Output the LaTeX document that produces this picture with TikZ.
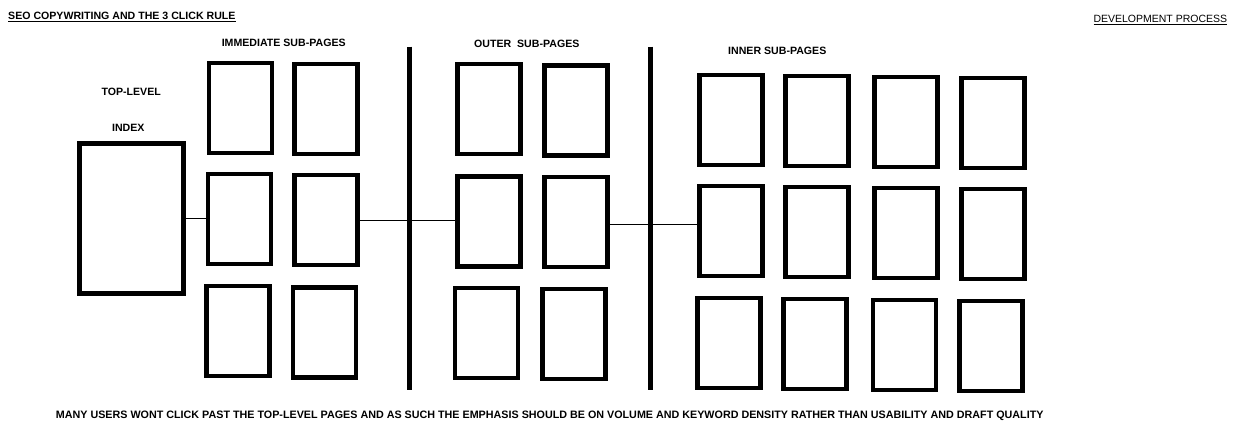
\documentclass[tikz,border=0pt]{standalone}
\usepackage{fontspec}
\setmainfont{Liberation Sans}

\begin{document}
\begin{tikzpicture}[x=1pt,y=-1pt]
%styles : pages, barres et titres
\tikzset{page/.style={draw,line width=4.2pt,minimum width=63pt,minimum height=90pt,inner sep=0pt}}
\tikzset{titre/.style={font=\bfseries\fontsize{10.6}{12}\selectfont,inner sep=0pt}}
\tikzset{lien/.style={line width=1.2pt}}
\useasboundingbox (0,0) rectangle (1234,434);
\node[titre,anchor=west] (seo) at (8,17.3) {\underline{SEO COPYWRITING AND THE 3 CLICK RULE}};
\node[titre,font=\fontsize{10.5}{12}\selectfont,anchor=east] (dev) at (1227.3,20) {\underline{DEVELOPMENT PROCESS}};
\node[titre] (top) at (131.2,91.7) {TOP-LEVEL};
\node[titre] (ind) at (128.3,128.3) {INDEX};
\node[titre] (imm) at (283.7,43.3) {IMMEDIATE SUB-PAGES};
\node[titre] (out) at (526.8,44.3) {OUTER\ \ SUB-PAGES};
\node[titre] (inn) at (777.3,50.7) {INNER SUB-PAGES};
%page d'index
\node[page,minimum width=104pt,minimum height=150pt] (idx) at (131.4,218.4) {};
%sous-pages immediates
\node[page] (im11) at (240.3,108.3) {};
\node[page] (im12) at (326,108.9) {};
\node[page] (im21) at (239.8,219.3) {};
\node[page] (im22) at (326,220.2) {};
\node[page] (im31) at (238,331.3) {};
\node[page] (im32) at (324.5,332.5) {};
%sous-pages externes
\node[page] (ou11) at (489,109.3) {};
\node[page] (ou12) at (576,110.5) {};
\node[page] (ou21) at (489,221.5) {};
\node[page] (ou22) at (576,222) {};
\node[page] (ou31) at (486.8,333.3) {};
\node[page] (ou32) at (574,334.3) {};
%sous-pages internes
\node[page] (in11) at (731,120.2) {};
\node[page] (in12) at (817,121.3) {};
\node[page] (in13) at (906,121.8) {};
\node[page] (in14) at (993,123) {};
\node[page] (in21) at (731,231.3) {};
\node[page] (in22) at (817,232.3) {};
\node[page] (in23) at (906,233.3) {};
\node[page] (in24) at (993,234.3) {};
\node[page] (in31) at (729,343) {};
\node[page] (in32) at (815,344) {};
\node[page] (in33) at (904.3,345) {};
\node[page] (in34) at (991,346) {};
%barres de separation
\draw[line width=4.5pt] (409.3,46.7) -- (409.3,390);
\draw[line width=4.5pt] (650.3,46.7) -- (650.3,390);
%liens
\draw[lien] (idx.east) -- (idx.east -| im21.west);
\draw[lien] (im22.east) -- (im22.east -| ou21.west);
\draw[lien] ([yshift=-2.3pt]ou22.east) -- ([yshift=-2.3pt]ou22.east -| in21.west);
\node[titre,font=\bfseries\fontsize{10.75}{12}\selectfont,anchor=west] (msg) at (55.7,415.3) {MANY USERS WONT CLICK PAST THE TOP-LEVEL PAGES AND AS SUCH THE EMPHASIS SHOULD BE ON VOLUME AND KEYWORD DENSITY RATHER THAN USABILITY AND DRAFT QUALITY};
\end{tikzpicture}
\end{document}
